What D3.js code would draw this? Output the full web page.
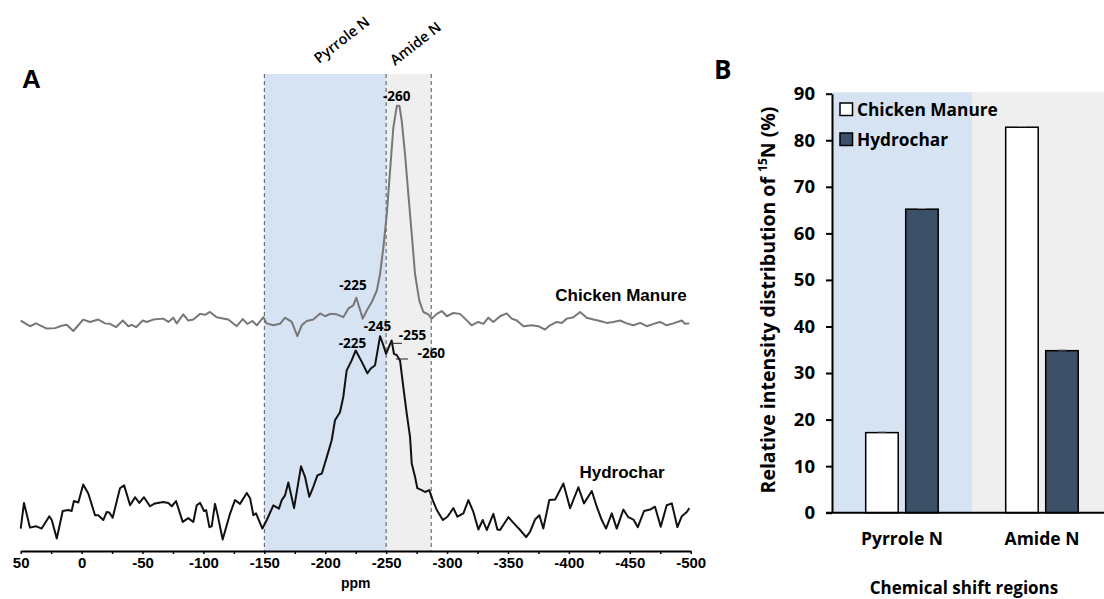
<!DOCTYPE html>
<html>
<head>
<meta charset="utf-8">
<script src="https://cdn.jsdelivr.net/npm/d3@7"></script>
<style>
body { margin: 0; background: #fff; }
</style>
</head>
<body>
<div id="plot"></div>
<script>
// ---- panel A: 15N CPMAS spectra (ppm, relative intensity, stacked) ----
const cmPpm = [50.0, 42.4, 37.5, 28.6, 21.8, 16.3, 12.2, 6.8, -1.3, -6.9, -13.7, -19.2, -23.3, -28.2, -33.8, -38.4, -41.2, -44.7, -50.2, -53.4,
  -58.8, -67.0, -71.2, -75.3, -78.1, -83.5, -87.6, -91.7, -97.3, -101.3, -105.4, -110.9, -115.0, -120.4, -127.3, -132.3, -136.1, -140.2, -143.8, -149.2,
  -151.9, -157.4, -162.9, -167.0, -172.5, -177.1, -180.7, -184.8, -190.2, -195.8, -199.9, -204.0, -209.4, -214.8, -218.9, -223.0, -225.5, -230.8, -234.1, -238.2,
  -242.3, -245.0, -247.7, -250.5, -253.2, -255.9, -258.8, -260.9, -262.8, -265.5, -268.2, -271.0, -273.7, -277.2, -280.5, -284.6, -287.4, -291.6, -295.7, -299.8,
  -305.2, -310.6, -314.7, -320.2, -325.7, -329.8, -333.9, -338.0, -343.5, -349.0, -353.1, -357.3, -362.7, -369.5, -374.9, -380.4, -384.5, -390.1, -394.2, -398.3,
  -403.7, -409.2, -414.6, -420.2, -425.6, -431.1, -436.5, -442.0, -447.5, -453.0, -458.5, -464.0, -469.4, -474.8, -480.3, -485.8, -492.7, -495.4, -498.9]
const cmIntensity = [48.1, 46.9, 47.5, 46.4, 46.5, 47.0, 47.2, 45.9, 48.3, 47.8, 48.3, 47.5, 47.4, 46.7, 48.1, 46.9, 47.2, 46.7, 48.1, 47.8,
  48.3, 48.5, 47.8, 48.7, 47.5, 49.4, 48.1, 48.3, 49.5, 49.3, 49.9, 48.8, 48.6, 48.3, 46.9, 48.4, 47.4, 48.0, 47.1, 48.8,
  47.5, 47.1, 47.4, 48.7, 47.8, 44.8, 47.1, 48.0, 48.3, 49.6, 49.0, 49.5, 49.4, 48.8, 50.6, 51.3, 52.9, 48.5, 50.2, 52.0,
  54.4, 57.9, 63.5, 70.5, 79.6, 88.7, 93.3, 93.3, 90.1, 83.1, 74.7, 66.3, 57.9, 52.3, 49.9, 49.4, 48.5, 49.5, 50.1, 49.0,
  49.7, 49.5, 48.5, 47.1, 47.8, 47.4, 48.7, 47.8, 49.0, 49.6, 48.5, 48.1, 46.9, 47.1, 46.9, 46.2, 47.1, 47.8, 47.6, 48.5,
  48.8, 49.9, 48.7, 48.3, 48.0, 47.6, 47.8, 48.1, 47.5, 47.1, 47.6, 46.9, 47.4, 47.8, 47.1, 47.5, 48.1, 47.4, 47.5]

const hcPpm = [50.0, 47.3, 42.4, 37.5, 32.8, 26.5, 24.5, 20.4, 15.5, 10.9, 8.2, 6.3, 2.7, -1.3, -5.5, -11.0, -13.7, -17.8, -20.6, -22.7,
  -25.5, -31.5, -34.9, -39.8, -43.9, -47.4, -51.2, -56.1, -60.2, -67.0, -71.2, -74.0, -77.5, -83.0, -87.6, -91.7, -94.5, -97.3, -100.5, -102.2,
  -104.9, -106.8, -109.5, -111.4, -115.8, -121.8, -125.9, -130.0, -135.6, -138.3, -141.0, -143.2, -148.4, -152.0, -157.4, -162.0, -164.3, -167.0, -169.7, -174.4,
  -180.1, -183.4, -186.9, -190.2, -193.6, -197.2, -201.3, -205.3, -208.0, -212.1, -214.8, -217.6, -221.7, -225.0, -230.0, -234.6, -237.4, -240.9, -245.0, -247.7,
  -249.9, -254.5, -256.4, -258.8, -261.4, -264.1, -266.9, -269.6, -271.0, -273.7, -275.6, -279.2, -281.9, -285.4, -288.2, -291.6, -296.5, -300.3, -305.2, -308.5,
  -313.4, -317.5, -321.6, -325.7, -329.3, -332.6, -338.0, -341.3, -343.5, -350.3, -354.5, -360.0, -364.9, -368.1, -372.2, -375.8, -379.0, -383.9, -388.7, -395.5,
  -401.0, -407.8, -412.4, -418.8, -422.9, -427.0, -430.5, -435.2, -439.3, -444.7, -448.8, -453.0, -456.6, -461.7, -466.7, -470.7, -475.4, -480.3, -484.5, -489.1,
  -492.7, -496.8, -498.9]
const hcIntensity = [4.3, 9.7, 4.5, 4.8, 4.3, 6.9, 6.1, 2.2, 8.0, 8.2, 8.0, 10.1, 9.8, 13.6, 11.7, 7.1, 7.1, 6.1, 7.8, 7.7,
  6.6, 12.8, 13.4, 9.2, 10.9, 9.7, 10.9, 9.0, 9.6, 9.9, 9.7, 9.0, 10.1, 5.7, 6.5, 5.7, 9.2, 9.7, 8.0, 8.2,
  4.6, 4.8, 9.5, 7.5, 2.0, 7.4, 10.3, 9.5, 11.8, 10.7, 7.1, 7.5, 4.3, 6.1, 9.2, 8.5, 10.3, 11.3, 14.0, 8.6,
  17.4, 15.2, 11.0, 13.1, 15.5, 15.9, 19.4, 22.9, 27.1, 28.8, 32.0, 37.6, 39.7, 41.8, 39.4, 37.0, 38.0, 38.7, 44.8, 42.9,
  41.1, 43.9, 41.1, 40.8, 39.7, 34.1, 28.5, 23.6, 18.0, 15.2, 12.8, 12.4, 12.0, 12.4, 10.3, 8.2, 6.1, 6.8, 8.6, 6.8,
  7.5, 10.3, 7.8, 4.1, 6.1, 4.0, 7.4, 4.1, 4.0, 6.7, 5.5, 4.0, 2.5, 3.6, 6.2, 7.1, 4.3, 10.3, 10.4, 13.8,
  8.6, 13.0, 9.6, 12.2, 8.9, 6.1, 4.3, 7.5, 4.3, 8.3, 6.7, 6.2, 4.6, 8.0, 8.3, 8.9, 4.7, 9.2, 9.6, 4.6,
  6.9, 7.8, 8.6]

const ppmTicks = [50, 0, -50, -100, -150, -200, -250, -300, -350, -400, -450, -500]
const regionEdges = [-150, -250, -287]
const regionNames = ['Pyrrole N', 'Amide N']

// ---- panel B: share of 15N intensity per region ----
const categories = ['Pyrrole N', 'Amide N']
const seriesNames = ['Chicken Manure', 'Hydrochar']
const manureShare = [17.2, 82.8]
const hydrocharShare = [65.2, 34.8]
const shareError = [0.15, 0.15]
const percentTicks = [0, 10, 20, 30, 40, 50, 60, 70, 80, 90]

const width = 1104
const height = 599
const blueFill = '#d6e3f3'
const greyFill = '#efefef'
const sansA = "'Liberation Sans', Arial, sans-serif"
const sansB = "'Open Sans', Lato, sans-serif"

const svg = d3.select('#plot')
  .append('svg')
  .attr('width', width)
  .attr('height', height)

// ================= panel A =================
const xA = d3.scaleLinear().domain([50, -500]).range([20.7, 690.7])
const yA = d3.scaleLinear().domain([0, 100]).range([549, 74])
const axisYA = 551
const shadeTop = 74

svg.selectAll('rect.regionA')
  .data(regionNames)
  .enter()
  .append('rect')
  .attr('class', 'regionA')
  .attr('x', (d, i) => xA(regionEdges[i]))
  .attr('width', (d, i) => xA(regionEdges[i + 1]) - xA(regionEdges[i]))
  .attr('y', shadeTop)
  .attr('height', axisYA - shadeTop)
  .attr('fill', (d, i) => i === 0 ? blueFill : greyFill)

svg.selectAll('line.edge')
  .data(regionEdges)
  .enter()
  .append('line')
  .attr('class', 'edge')
  .attr('x1', d => xA(d)).attr('x2', d => xA(d))
  .attr('y1', shadeTop).attr('y2', axisYA)
  .attr('stroke', '#555')
  .attr('stroke-width', 1)
  .attr('stroke-dasharray', '4,3')

// region names, tilted above the shading
svg.selectAll('text.regionName')
  .data(regionNames)
  .enter()
  .append('text')
  .attr('class', 'regionName')
  .attr('transform', (d, i) => 'translate(' + (i === 0 ? 319 : 395) + ',' + (i === 0 ? 64 : 66) + ') rotate(-38)')
  .attr('font-family', sansB)
  .attr('font-size', 14.5)
  .attr('font-weight', 600)
  .text(d => d)

const spectrum = d3.line()
  .x(d => xA(d[0]))
  .y(d => yA(d[1]))

svg.append('path')
  .datum(d3.zip(cmPpm, cmIntensity))
  .attr('d', spectrum)
  .attr('fill', 'none')
  .attr('stroke', '#777')
  .attr('stroke-width', 2)
  .attr('stroke-linejoin', 'round')

svg.append('path')
  .datum(d3.zip(hcPpm, hcIntensity))
  .attr('d', spectrum)
  .attr('fill', 'none')
  .attr('stroke', '#111')
  .attr('stroke-width', 2)
  .attr('stroke-linejoin', 'round')

// x axis, minor ticks every 25 ppm
const axisA = svg.append('g')
  .attr('transform', 'translate(0,' + axisYA + ')')
  .call(d3.axisBottom(xA)
    .tickValues(d3.range(50, -501, -25))
    .tickSize(3)
    .tickSizeOuter(0)
    .tickFormat(d => ppmTicks.includes(d) ? d : ''))
axisA.select('.domain').attr('stroke-width', 2)
axisA.selectAll('.tick line').attr('stroke-width', 1.5)
axisA.selectAll('text')
  .attr('font-family', "'Liberation Sans Narrow', 'Liberation Sans', Arial, sans-serif")
  .attr('font-weight', 'bold')
  .attr('font-size', 15)
  .attr('fill', '#000')

svg.append('text')
  .attr('x', (xA(50) + xA(-500)) / 2)
  .attr('y', 588)
  .attr('text-anchor', 'middle')
  .attr('font-family', sansA)
  .attr('font-weight', 'bold')
  .attr('font-size', 14)
  .text('ppm')

// peak annotations
const peakNotes = [
  { text: '-260', ppm: -258.7, v: 94.3 },
  { text: '-225', ppm: -222.8, v: 54.5 },
  { text: '-245', ppm: -242.9, v: 45.8 },
  { text: '-225', ppm: -222.4, v: 42.4 },
  { text: '-255', ppm: -271.7, v: 44.1 },
  { text: '-260', ppm: -287.1, v: 40.3 }
]
svg.selectAll('text.peak')
  .data(peakNotes)
  .enter()
  .append('text')
  .attr('class', 'peak')
  .attr('x', d => xA(d.ppm))
  .attr('y', d => yA(d.v))
  .attr('text-anchor', 'middle')
  .attr('font-family', sansB)
  .attr('font-weight', 'bold')
  .attr('font-size', 13.5)
  .text(d => d.text)

// leader lines for the two shoulder labels
const leaders = [[-254, -263, 43.3], [-258, -268, 40.0]]
svg.selectAll('line.leader')
  .data(leaders)
  .enter()
  .append('line')
  .attr('class', 'leader')
  .attr('x1', d => xA(d[0])).attr('x2', d => xA(d[1]))
  .attr('y1', d => yA(d[2])).attr('y2', d => yA(d[2]))
  .attr('stroke', '#222')
  .attr('stroke-width', 1)

svg.append('text')
  .attr('x', 621).attr('y', 301)
  .attr('text-anchor', 'middle')
  .attr('font-family', sansA)
  .attr('font-weight', 'bold')
  .attr('font-size', 17)
  .text('Chicken Manure')

svg.append('text')
  .attr('x', 622).attr('y', 478)
  .attr('text-anchor', 'middle')
  .attr('font-family', sansA)
  .attr('font-weight', 'bold')
  .attr('font-size', 17)
  .text('Hydrochar')

svg.append('text')
  .attr('x', 22).attr('y', 88)
  .attr('font-family', sansA)
  .attr('font-weight', 'bold')
  .attr('font-size', 26)
  .text('A')

// ================= panel B =================
const xB = d3.scaleBand().domain(categories).range([832, 1112])
const xSub = d3.scaleBand().domain(seriesNames).range([33.7, 106.2]).paddingInner(0.1875)
const yB = d3.scaleLinear().domain([0, 90]).range([512.7, 93.7])

svg.selectAll('rect.regionB')
  .data(categories)
  .enter()
  .append('rect')
  .attr('class', 'regionB')
  .attr('x', d => xB(d))
  .attr('width', xB.bandwidth())
  .attr('y', yB(90) - 1.5)
  .attr('height', yB(0) - yB(90) + 1.5)
  .attr('fill', (d, i) => i === 0 ? blueFill : greyFill)

const barData = categories.map((c, i) => [
  { cat: c, series: seriesNames[0], value: manureShare[i], err: shareError[i], fill: '#ffffff' },
  { cat: c, series: seriesNames[1], value: hydrocharShare[i], err: shareError[i], fill: '#3c5068' }
]).flat()

svg.selectAll('rect.bar')
  .data(barData)
  .enter()
  .append('rect')
  .attr('class', 'bar')
  .attr('x', d => xB(d.cat) + xSub(d.series))
  .attr('width', xSub.bandwidth())
  .attr('y', d => yB(d.value))
  .attr('height', d => yB(0) - yB(d.value))
  .attr('fill', d => d.fill)
  .attr('stroke', '#000')
  .attr('stroke-width', 1.5)

// tiny error caps
svg.selectAll('line.err')
  .data(barData)
  .enter()
  .append('line')
  .attr('class', 'err')
  .attr('x1', d => xB(d.cat) + xSub(d.series) + xSub.bandwidth() / 2 - 4)
  .attr('x2', d => xB(d.cat) + xSub(d.series) + xSub.bandwidth() / 2 + 4)
  .attr('y1', d => yB(d.value + d.err))
  .attr('y2', d => yB(d.value + d.err))
  .attr('stroke', '#888')
  .attr('stroke-width', 1)

const axisB = svg.append('g')
  .attr('transform', 'translate(832,0)')
  .call(d3.axisLeft(yB).tickValues(percentTicks).tickSize(6).tickSizeOuter(0).tickPadding(11))
axisB.select('.domain').attr('stroke-width', 2)
axisB.selectAll('.tick line').attr('stroke-width', 2)
axisB.selectAll('text')
  .attr('font-family', sansB)
  .attr('font-weight', 'bold')
  .attr('font-size', 18.5)
  .attr('fill', '#000')

svg.append('line')
  .attr('x1', 826).attr('x2', width)
  .attr('y1', yB(0)).attr('y2', yB(0))
  .attr('stroke', '#000')
  .attr('stroke-width', 2)

const catAxis = svg.append('g')
  .attr('transform', 'translate(0,' + yB(0) + ')')
  .call(d3.axisBottom(xB).tickSize(0).tickPadding(20))
catAxis.select('.domain').remove()
catAxis.selectAll('text')
  .attr('font-family', sansB)
  .attr('font-weight', 'bold')
  .attr('font-size', 17.5)
  .attr('fill', '#000')

svg.append('text')
  .attr('x', 964).attr('y', 594)
  .attr('text-anchor', 'middle')
  .attr('font-family', sansB)
  .attr('font-weight', 'bold')
  .attr('font-size', 17)
  .text('Chemical shift regions')

const yTitle = svg.append('text')
  .attr('transform', 'translate(775,300) rotate(-90)')
  .attr('text-anchor', 'middle')
  .attr('font-family', sansB)
  .attr('font-weight', 'bold')
  .attr('font-size', 19.5)
yTitle.append('tspan').text('Relative intensity distribution of ')
yTitle.append('tspan').attr('font-size', 12).attr('dy', -8).text('15')
yTitle.append('tspan').attr('dy', 8).text('N (%)')

// legend
const legend = svg.selectAll('g.legend')
  .data(seriesNames)
  .enter()
  .append('g')
  .attr('class', 'legend')
  .attr('transform', (d, i) => 'translate(840,' + (103 + i * 30) + ')')
legend.append('rect')
  .attr('width', 12.5).attr('height', 12.5)
  .attr('fill', (d, i) => i === 0 ? '#ffffff' : '#3c5068')
  .attr('stroke', '#000')
  .attr('stroke-width', 1.5)
legend.append('text')
  .attr('x', 17).attr('y', 12.5)
  .attr('font-family', sansB)
  .attr('font-weight', 'bold')
  .attr('font-size', 17.3)
  .text(d => d)

svg.append('text')
  .attr('x', 714).attr('y', 79)
  .attr('font-family', sansB)
  .attr('font-weight', 'bold')
  .attr('font-size', 26)
  .text('B')
</script>
</body>
</html>
